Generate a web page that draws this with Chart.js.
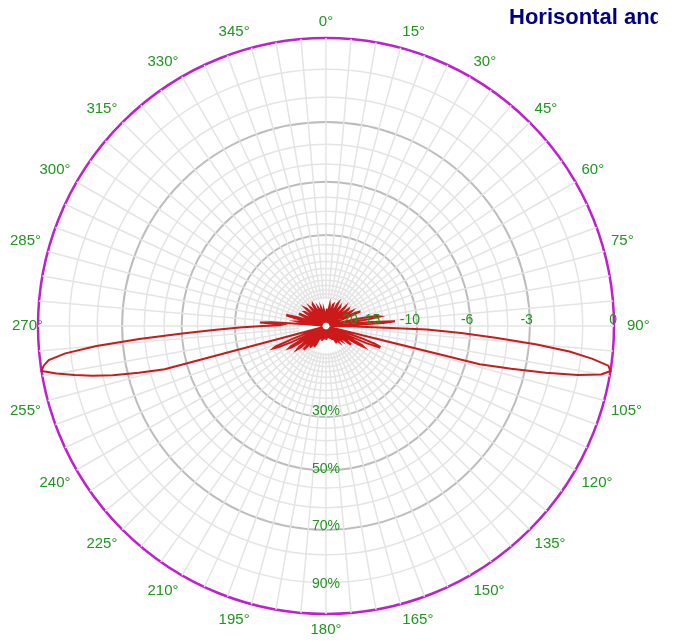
<!DOCTYPE html>
<html>
<head>
<meta charset="utf-8">
<script src="https://cdn.jsdelivr.net/npm/chart.js@4.4.0/dist/chart.umd.min.js"></script>
<style>
  html, body { margin: 0; padding: 0; background: #fff; overflow: hidden; }
  #wrap { position: relative; width: 679px; height: 642px; }
  #title {
    position: absolute; left: 509px; top: 4px; width: 149px;
    overflow: hidden; white-space: nowrap;
    font: bold 22px "Liberation Sans", Arial, sans-serif; color: #000080;
  }
</style>
</head>
<body>
<div id="wrap">
  <canvas id="diagram" width="679" height="642"></canvas>
  <div id="title">Horisontal and vertical diagram</div>
</div>
<script>
// ===== DATA =====
// one value per degree (0..359), relative field strength (1 = 0 dB)
const pattern = [
  .02, .035, .05, .06, .05, .025, .012, .015, .035, .06,
  .075, .07, .04, .012, .015, .012, .03, .06, .078, .08,
  .065, .03, .012, .015, .012, .035, .065, .085, .09, .075,
  .035, .012, .015, .012, .04, .07, .085, .082, .06, .02,
  .012, .015, .012, .04, .075, .095, .09, .06, .02, .012,
  .015, .04, .08, .098, .095, .06, .02, .012, .04, .085,
  .105, .1, .06, .015, .02, .07, .115, .13, .1, .04,
  .012, .015, .012, .015, .012, .015, .04, .1, .15, .18,
  .19, .15, .06, .015, .06, .16, .24, .2, .08, .015,
  .03, .1, .35, .47, .59, .73, .85, .93, .99, 1.0,
  .97, .89, .78, .66, .55, .04, .015, .02, .06, .13,
  .18, .2, .2, .15, .05, .012, .04, .1, .14, .15,
  .13, .06, .012, .015, .05, .09, .105, .105, .08, .03,
  .012, .015, .04, .065, .075, .07, .04, .012, .015, .04,
  .06, .07, .065, .035, .012, .015, .04, .06, .07, .055,
  .025, .012, .015, .035, .05, .05, .03, .012, .015, .03,
  .045, .045, .03, .012, .015, .03, .04, .04, .025, .012,
  .015, .03, .04, .04, .025, .012, .015, .035, .045, .045,
  .03, .012, .015, .03, .04, .04, .025, .012, .015, .03,
  .045, .045, .03, .012, .015, .035, .05, .05, .03, .012,
  .015, .03, .045, .05, .035, .012, .015, .04, .07, .08,
  .08, .05, .012, .015, .05, .08, .09, .09, .06, .015,
  .012, .04, .09, .11, .11, .08, .02, .012, .04, .09,
  .12, .13, .12, .07, .015, .015, .05, .1, .14, .15,
  .14, .09, .02, .015, .06, .13, .18, .2, .19, .12,
  .04, .012, .015, .03, .05, .58, .67, .76, .83, .89,
  .95, 1.0, .99, .97, .91, .8, .65, .5, .39, .3,
  .22, .16, .15, .23, .19, .07, .015, .04, .08, .1,
  .09, .045, .012, .05, .11, .14, .14, .1, .03, .012,
  .015, .012, .04, .08, .1, .1, .07, .02, .012, .015,
  .012, .04, .075, .09, .088, .06, .015, .012, .015, .04,
  .075, .095, .09, .06, .02, .012, .015, .012, .04, .07,
  .085, .08, .05, .015, .012, .015, .04, .07, .088, .09,
  .075, .035, .012, .015, .012, .035, .06, .07, .065, .035,
  .012, .015, .012, .03, .055, .065, .06, .035, .012, .015,
  .012, .025, .045, .055, .05, .03, .012, .015, .012, .015
];
const degrees = pattern.map((v, i) => i);
const angleLabels = [0, 15, 30, 45, 60, 75, 90, 105, 120, 135, 150, 165,
  180, 195, 210, 225, 240, 255, 270, 285, 300, 315, 330, 345];
const ringDb = [-20, -19, -18, -17, -16, -15, -14, -13, -12, -11, -10,
  -9, -8, -7, -6, -5, -4, -3, -2, -1, 0];
const darkRings = [-10, -6, -3];
const dbLabels = [-20, -15, -10, -6, -3, 0];
const pctLabels = [30, 50, 70, 90];

const GREEN = '#1f961f';
const LIGHT = '#e4e4e4';

const amp = db => Math.pow(10, db / 20);

// ===== PLUGINS =====
// keeps the middle of the diagram free of angle lines (inside -20 dB)
const centerMask = {
  id: 'centerMask',
  beforeDatasetsDraw(chart) {
    const s = chart.scales.r;
    const ctx = chart.ctx;
    ctx.save();
    ctx.fillStyle = '#fff';
    ctx.beginPath();
    ctx.arc(s.xCenter, s.yCenter, s.getDistanceFromCenterForValue(0.094), 0, Math.PI * 2);
    ctx.fill();
    ctx.restore();
  }
};

// dB labels along 90 deg, percent labels along 180 deg
const ringLabels = {
  id: 'ringLabels',
  afterDatasetsDraw(chart) {
    const s = chart.scales.r;
    const ctx = chart.ctx;
    ctx.save();
    ctx.fillStyle = GREEN;
    ctx.font = '14px "Liberation Sans", Arial, sans-serif';
    ctx.textBaseline = 'middle';
    ctx.textAlign = 'right';
    dbLabels.forEach(d => {
      ctx.fillText(String(d), s.xCenter + s.getDistanceFromCenterForValue(amp(d)) + 3, s.yCenter - 6);
    });
    ctx.textAlign = 'center';
    pctLabels.forEach(p => {
      ctx.fillText(p + '%', s.xCenter, s.yCenter + s.getDistanceFromCenterForValue(p / 100) - 1);
    });
    ctx.restore();
  }
};

// ===== CHART =====
new Chart(document.getElementById('diagram'), {
  type: 'radar',
  data: {
    labels: degrees,
    datasets: [{
      data: pattern,
      borderColor: '#cc1a1a',
      borderWidth: 2,
      pointRadius: 0,
      fill: false,
      tension: 0
    }]
  },
  options: {
    responsive: false,
    animation: false,
    devicePixelRatio: 1,
    layout: { padding: { left: 1, right: 18, top: 13, bottom: 3 } },
    plugins: { legend: { display: false }, tooltip: { enabled: false } },
    scales: {
      r: {
        min: 0,
        max: 1,
        startAngle: 0,
        afterBuildTicks: scale => {
          scale.ticks = [{ value: 0 }].concat(ringDb.map(d => ({ value: amp(d), db: d })));
        },
        ticks: { display: false },
        grid: {
          circular: true,
          color: c => {
            const d = c.tick && c.tick.db;
            if (d === 0) return '#bf1fcf';
            return darkRings.includes(d) ? '#bdbdbd' : LIGHT;
          },
          lineWidth: c => {
            const d = c.tick && c.tick.db;
            if (d === 0) return 2.5;
            return darkRings.includes(d) ? 2 : 1.5;
          }
        },
        angleLines: {
          color: c => (c.index % 5 === 0 ? LIGHT : 'transparent'),
          lineWidth: c => (c.index % 5 === 0 ? 1.5 : 0)
        },
        pointLabels: {
          color: GREEN,
          font: { family: '"Liberation Sans", Arial, sans-serif', size: 15 },
          padding: c => (c.index === 270 ? -5 : c.index === 90 ? 13 : 7),
          callback: (label, i) => (angleLabels.includes(i) ? i + '°' : '')
        }
      }
    }
  },
  plugins: [centerMask, ringLabels]
});
</script>
</body>
</html>
